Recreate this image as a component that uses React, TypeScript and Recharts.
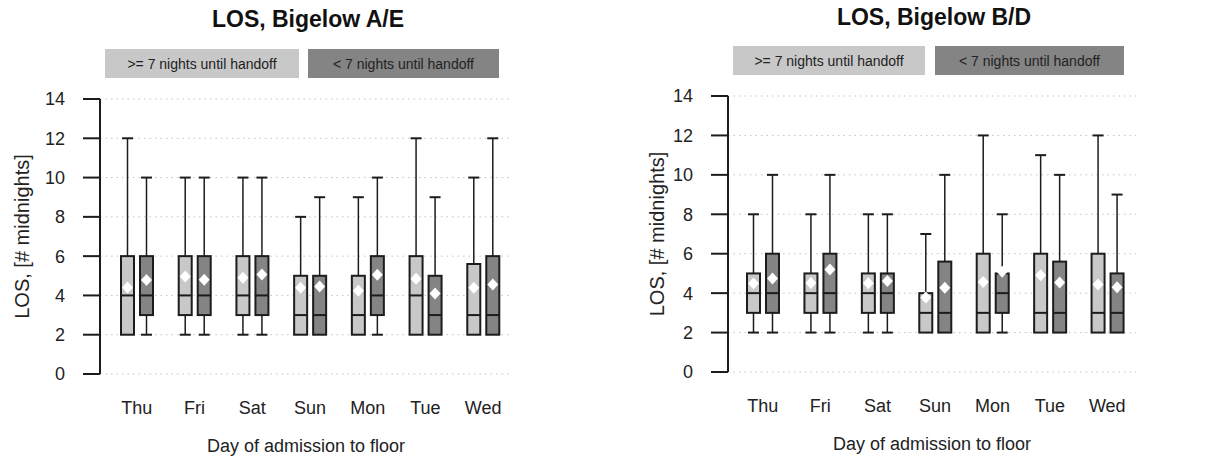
import React from 'react';
import { ComposedChart, Bar, XAxis, YAxis, CartesianGrid, Legend } from 'recharts';

const DAYS = ['Thu', 'Fri', 'Sat', 'Sun', 'Mon', 'Tue', 'Wed'];
const Y_TICKS = [0, 2, 4, 6, 8, 10, 12, 14];
const SERIES_NAMES = ['>= 7 nights until handoff', '< 7 nights until handoff'];

// each entry: [min, q1, median, q3, max, mean] in midnights
const aeLong = [
  [2, 2, 4, 6, 12, 4.4],
  [2, 3, 4, 6, 10, 4.97],
  [2, 3, 4, 6, 10, 4.9],
  [2, 2, 3, 5, 8, 4.39],
  [2, 2, 3, 5, 9, 4.24],
  [2, 2, 4, 6, 12, 4.85],
  [2, 2, 3, 5.6, 10, 4.39],
];
const aeShort = [
  [2, 3, 4, 6, 10, 4.78],
  [2, 3, 4, 6, 10, 4.8],
  [2, 3, 4, 6, 10, 5.07],
  [2, 2, 3, 5, 9, 4.46],
  [2, 3, 4, 6, 10, 5.05],
  [2, 2, 3, 5, 9, 4.1],
  [2, 2, 3, 6, 12, 4.56],
];
const bdLong = [
  [2, 3, 4, 5, 8, 4.49],
  [2, 3, 4, 5, 8, 4.52],
  [2, 3, 4, 5, 8, 4.5],
  [2, 2, 3, 4, 7, 3.78],
  [2, 2, 3, 6, 12, 4.57],
  [2, 2, 3, 6, 11, 4.91],
  [2, 2, 3, 6, 12, 4.44],
];
const bdShort = [
  [2, 3, 4, 6, 10, 4.74],
  [2, 3, 4, 6, 10, 5.2],
  [2, 3, 4, 5, 8, 4.62],
  [2, 2, 3, 5.6, 10, 4.27],
  [2, 3, 4, 5, 8, 5.08],
  [2, 2, 3, 5.6, 10, 4.54],
  [2, 2, 3, 5, 9, 4.3],
];

const LIGHT = '#c8c8c8';
const DARK = '#848484';
const INK = '#1c1c1c';
const FONT = '"Liberation Sans", Arial, Helvetica, sans-serif';

const buildRows = (longStats: number[][], shortStats: number[][]) =>
  DAYS.map((day, i) => ({ day, long: longStats[i], short: shortStats[i] }));

// Box-and-whisker drawn inside the [min, max] range bar; the bar's own pixel
// extent gives the scale for the inner quantiles and the mean.
const BoxShape = (props: any) => {
  const { x, y, width, height, stats, fill } = props;
  if (!stats) return null;
  const [min, q1, med, q3, max, mean] = stats;
  const top = Math.min(y, y + height);
  const h = Math.abs(height);
  const per = h / (max - min);
  const py = (v: number) => top + (max - v) * per;
  const cx = x + width / 2;
  const cap = 5.5;
  const my = py(mean);
  return (
    <g>
      <line x1={cx} x2={cx} y1={py(max)} y2={py(q3)} stroke={INK} strokeWidth={1.5} />
      <line x1={cx - cap} x2={cx + cap} y1={py(max)} y2={py(max)} stroke={INK} strokeWidth={2} />
      {min < q1 && (
        <>
          <line x1={cx} x2={cx} y1={py(q1)} y2={py(min)} stroke={INK} strokeWidth={1.5} />
          <line x1={cx - cap} x2={cx + cap} y1={py(min)} y2={py(min)} stroke={INK} strokeWidth={2} />
        </>
      )}
      <rect x={x + 1} y={py(q3)} width={width - 2} height={py(q1) - py(q3)} fill={fill} stroke={INK} strokeWidth={2} />
      <line x1={x + 1} x2={x + width - 1} y1={py(med)} y2={py(med)} stroke={INK} strokeWidth={2} />
      <polygon
        points={`${cx},${my - 6} ${cx + 5.5},${my} ${cx},${my + 6} ${cx - 5.5},${my}`}
        fill="#ffffff"
      />
    </g>
  );
};

// legend keeps the series order rather than the default alphabetical one
const LegendBoxes = ({ payload, widths, gap }: any) => {
  const items = [...(payload || [])].sort(
    (a: any, b: any) => SERIES_NAMES.indexOf(a.value) - SERIES_NAMES.indexOf(b.value),
  );
  return (
    <div style={{ display: 'flex', gap, fontFamily: FONT, fontSize: 14, color: '#222' }}>
      {items.map((entry: any, i: number) => (
        <div
          key={entry.value}
          style={{
            width: widths[i],
            height: 29,
            background: entry.color,
            display: 'flex',
            alignItems: 'center',
            justifyContent: 'center',
          }}
        >
          {entry.value}
        </div>
      ))}
    </div>
  );
};

interface PanelProps {
  title: string;
  longStats: number[][];
  shortStats: number[][];
  margin: { top: number; right: number; bottom: number; left: number };
  padLeft: number;
  yLabelX: number;
  titleX: number;
  titleTop: number;
  legendPos: { left: number; top: number };
  legendWidths: number[];
  legendGap: number;
}

const Panel: React.FC<PanelProps> = ({
  title, longStats, shortStats, margin, padLeft, yLabelX, titleX, titleTop, legendPos, legendWidths, legendGap,
}) => {
  const rows = buildRows(longStats, shortStats);
  return (
    <div style={{ position: 'relative', width: 606, height: 461 }}>
      <div
        style={{
          position: 'absolute',
          top: titleTop,
          left: titleX,
          transform: 'translateX(-50%)',
          whiteSpace: 'nowrap',
          fontFamily: FONT,
          fontWeight: 'bold',
          fontSize: 23,
          color: '#111',
        }}
      >
        {title}
      </div>
      <ComposedChart width={606} height={461} data={rows} margin={margin} barSize={15} barGap={4}>
        <CartesianGrid vertical={false} stroke="#c4c4c4" strokeDasharray="1.5 4" />
        <XAxis
          dataKey="day"
          axisLine={false}
          tickLine={false}
          tickSize={0}
          tickMargin={27}
          height={80}
          padding={{ left: padLeft, right: 0 }}
          tick={{ fontSize: 18, fill: '#222', fontFamily: FONT }}
          label={({ viewBox }: any) => (
            <text
              x={viewBox.x + viewBox.width / 2}
              y={viewBox.y + 78}
              textAnchor="middle"
              fontSize={18}
              fill="#222"
              fontFamily={FONT}
            >
              Day of admission to floor
            </text>
          )}
        />
        <YAxis
          domain={[0, 14]}
          ticks={Y_TICKS}
          interval={0}
          width={60}
          axisLine={{ stroke: INK, strokeWidth: 2 }}
          tickLine={{ stroke: INK, strokeWidth: 2 }}
          tickSize={17}
          tickMargin={18}
          tick={{ fontSize: 18, fill: '#222', fontFamily: FONT }}
          label={({ viewBox }: any) => {
            const cy = viewBox.y + viewBox.height / 2;
            return (
              <text
                x={yLabelX}
                y={cy}
                transform={`rotate(-90, ${yLabelX}, ${cy})`}
                textAnchor="middle"
                dominantBaseline="central"
                fontSize={20}
                fill="#222"
                fontFamily={FONT}
              >
                LOS, [# midnights]
              </text>
            );
          }}
        />
        <Legend
          layout="vertical"
          align="center"
          verticalAlign="middle"
          wrapperStyle={{ left: legendPos.left, top: legendPos.top, width: 'auto' }}
          content={(p: any) => <LegendBoxes payload={p.payload} widths={legendWidths} gap={legendGap} />}
        />
        <Bar
          name={SERIES_NAMES[0]}
          dataKey={(d: any) => [d.long[0], d.long[4]]}
          fill={LIGHT}
          isAnimationActive={false}
          shape={(p: any) => <BoxShape {...p} stats={p.payload.long} fill={LIGHT} />}
        />
        <Bar
          name={SERIES_NAMES[1]}
          dataKey={(d: any) => [d.short[0], d.short[4]]}
          fill={DARK}
          isAnimationActive={false}
          shape={(p: any) => <BoxShape {...p} stats={p.payload.short} fill={DARK} />}
        />
      </ComposedChart>
    </div>
  );
};

export default function App() {
  return (
    <div style={{ position: 'absolute', left: 0, top: 0, width: 1212, height: 461, display: 'flex', background: '#fff' }}>
      <Panel
        title="LOS, Bigelow A/E"
        longStats={aeLong}
        shortStats={aeShort}
        margin={{ top: 99, right: 94, bottom: 7, left: 40 }}
        padLeft={8}
        yLabelX={22}
        titleX={308}
        titleTop={6}
        legendPos={{ left: 105, top: 49 }}
        legendWidths={[194, 191]}
        legendGap={9}
      />
      <Panel
        title="LOS, Bigelow B/D"
        longStats={bdLong}
        shortStats={bdShort}
        margin={{ top: 96, right: 76, bottom: 9, left: 62 }}
        padLeft={6}
        yLabelX={51}
        titleX={328}
        titleTop={4}
        legendPos={{ left: 127, top: 46 }}
        legendWidths={[192, 189]}
        legendGap={10}
      />
    </div>
  );
}
